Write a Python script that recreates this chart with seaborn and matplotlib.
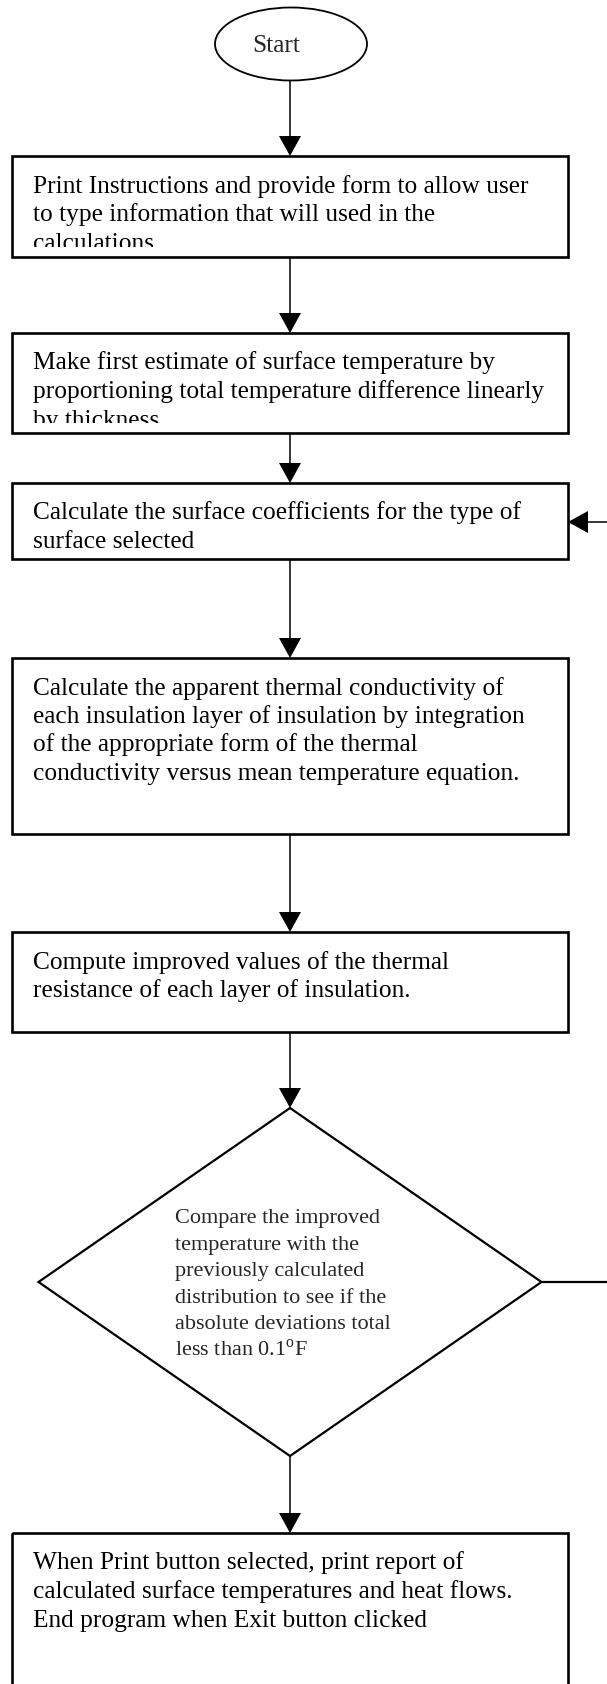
import matplotlib
matplotlib.use("Agg")
import matplotlib.pyplot as plt
from matplotlib.patches import Rectangle, Ellipse, Polygon
import seaborn as sns

sns.set_style("white")
plt.rcParams['font.family'] = ['Liberation Serif', 'DejaVu Serif']
plt.rcParams['mathtext.fontset'] = 'custom'
plt.rcParams['mathtext.rm'] = 'Liberation Serif'

# flowchart content
start_label = "Start"
step_texts = [
    ["Print Instructions and provide form to allow user",
     "to type information that will used in the",
     "calculations"],
    ["Make first estimate of surface temperature by",
     "proportioning total temperature difference linearly",
     "by thickness"],
    ["Calculate the surface coefficients for the type of",
     "surface selected"],
    ["Calculate the apparent thermal conductivity of",
     "each insulation layer of insulation by integration",
     "of the appropriate form of the thermal",
     "conductivity versus mean temperature equation."],
    ["Compute improved values of the thermal",
     "resistance of each layer of insulation."],
]
decision_text = ["Compare the improved",
                 "temperature with the",
                 "previously calculated",
                 "distribution to see if the",
                 "absolute deviations total",
                 r"less than 0.1$^{\rm o}$F"]
end_text = ["When Print button selected, print report of",
            "calculated surface temperatures and heat flows.",
            "End program when Exit button clicked"]

# layout (pixel space, y downwards)
W, H = 607, 1684
cx = 290
box_l, box_r = 12, 568
box_top = [156, 333, 483, 658, 932]
box_bot = [257, 433, 559, 834, 1032]
end_top, end_bot = 1533, 1710
text_x = 33
first_base = 36.5
line_gap = 28.5
clip_pad = 10.5
dia_top, dia_bot, dia_half = 1108, 1456, 251.5
dia_cy = (dia_top + dia_bot) / 2
dia_text_x, dia_text_y0, dia_gap = 175, 1215, 26.6
ell_cy, ell_w, ell_h = 44, 152, 73
loop_y = 522

fig = plt.figure(figsize=(W / 100, H / 100), dpi=100)
ax = fig.add_axes([0, 0, 1, 1])
ax.set_xlim(0, W)
ax.set_ylim(H, 0)
ax.axis('off')


def arrow(x0, y0, x1, y1, lw=1.1, hl=20, hw=11):
    # line with a filled triangular head ending at (x1, y1)
    if x0 == x1:
        s = 1 if y1 > y0 else -1
        base = y1 - s * hl
        ax.plot([x0, x1], [y0, base], color='black', lw=lw, solid_capstyle='butt')
        head = [(x1, y1), (x1 - hw, base), (x1 + hw, base)]
    else:
        s = 1 if x1 > x0 else -1
        base = x1 - s * hl
        ax.plot([x0, base], [y0, y1], color='black', lw=lw, solid_capstyle='butt')
        head = [(x1, y1), (base, y1 - hw), (base, y1 + hw)]
    ax.add_patch(Polygon(head, closed=True, color='black', lw=0))


def box(top, bot, lines):
    rect = Rectangle((box_l, top), box_r - box_l, bot - top, fill=False,
                     ec='black', lw=1.9, zorder=3)
    ax.add_patch(rect)
    # text that runs past the box is cut off, as in the original
    clip = Rectangle((box_l, top), box_r - box_l, bot - top - clip_pad,
                     transform=ax.transData, visible=False)
    ax.add_patch(clip)
    for i, t in enumerate(lines):
        txt = ax.text(text_x, top + first_base + i * line_gap, t, fontsize=18.3,
                      ha='left', va='baseline', color='black', clip_on=True)
        txt.set_clip_path(clip)


# start terminal
ax.add_patch(Ellipse((cx + 1, ell_cy), ell_w, ell_h, fill=False, ec='black', lw=1.3))
ax.text(cx - 14, ell_cy + 8, start_label, fontsize=18.3, ha='center', va='baseline')
arrow(cx, ell_cy + ell_h / 2, cx, box_top[0])

for k, lines in enumerate(step_texts):
    box(box_top[k], box_bot[k], lines)
    if k + 1 < len(step_texts):
        arrow(cx, box_bot[k], cx, box_top[k + 1])

# decision
arrow(cx, box_bot[-1], cx, dia_top)
ax.add_patch(Polygon([(cx, dia_top), (cx + dia_half, dia_cy), (cx, dia_bot),
                      (cx - dia_half, dia_cy)], closed=True, fill=False,
                     ec='black', lw=1.6))
for i, t in enumerate(decision_text):
    ax.text(dia_text_x, dia_text_y0 + 8 + i * dia_gap, t, fontsize=16,
            ha='left', va='baseline')

# loop back to surface coefficients
ax.plot([cx + dia_half, W], [dia_cy, dia_cy], color='black', lw=1.6)
arrow(W, loop_y, box_r, loop_y)

# final step
arrow(cx, dia_bot, cx, end_top)
box(end_top, end_bot, end_text)

fig.savefig("out.png", dpi=100)
